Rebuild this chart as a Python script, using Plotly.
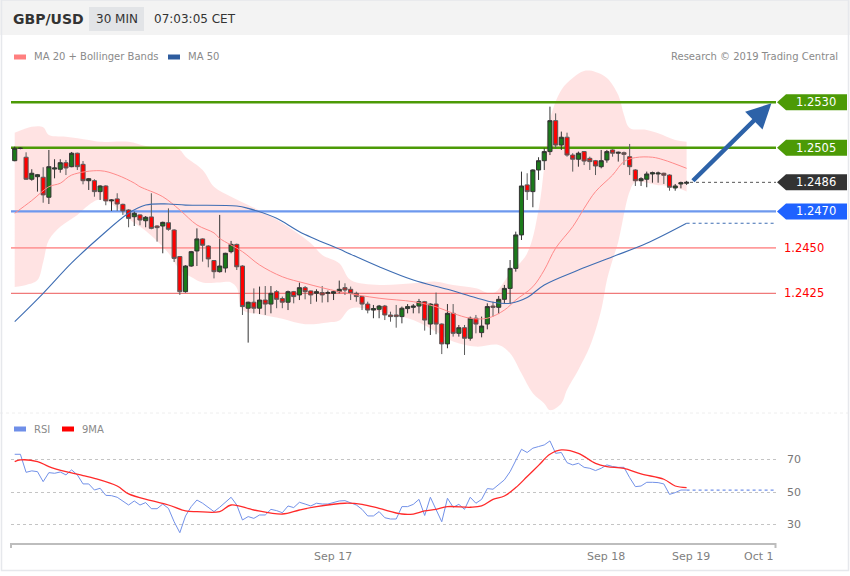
import plotly.graph_objects as go

# ---------------- data ----------------
slots = list(range(119))
open_ = [
1.24979, 1.25047, 1.24998, 1.24877, 1.24891, 1.24888, 1.24778, 1.24933, 1.24932, 1.24968,
1.24946, 1.25020, 1.24959, 1.24869, 1.24869, 1.24809, 1.24840, 1.24758, 1.24769, 1.24739,
1.24708, 1.24671, 1.24681, 1.24649, 1.24670, 1.24620, 1.24620, 1.24638, 1.24598, 1.24452,
1.24259, 1.24400, 1.24483, 1.24549, 1.24510, 1.24430, 1.24369, 1.24389, 1.24479, 1.24519,
1.24400, 1.24168, 1.24201, 1.24168, 1.24213, 1.24191, 1.24259, 1.24221, 1.24201, 1.24259,
1.24241, 1.24281, 1.24263, 1.24250, 1.24254, 1.24250, 1.24250, 1.24259, 1.24281, 1.24272,
1.24250, 1.24232, 1.24191, 1.24158, 1.24162, 1.24180, 1.24131, 1.24131, 1.24122, 1.24166,
1.24173, 1.24180, 1.24204, 1.24081, 1.24191, 1.24081, 1.23972, 1.24140, 1.24030, 1.24061,
1.24003, 1.24113, 1.24034, 1.24081, 1.24180, 1.24173, 1.24217, 1.24277, 1.24387, 1.24571,
1.24846, 1.24809, 1.24928, 1.24979, 1.25029, 1.25199, 1.25065, 1.25108, 1.25010, 1.24987,
1.25029, 1.24992, 1.24979, 1.24946, 1.24983, 1.25038, 1.25020, 1.25023, 1.25001, 1.24928,
1.24869, 1.24877, 1.24906, 1.24906, 1.24910, 1.24900, 1.24829, 1.24851, 1.24855]
high = [
1.25056, 1.25052, 1.25025, 1.24932, 1.24906, 1.24943, 1.25038, 1.24987, 1.24987, 1.24983,
1.25027, 1.25023, 1.24977, 1.24884, 1.24877, 1.24844, 1.24844, 1.24767, 1.24800, 1.24743,
1.24712, 1.24699, 1.24684, 1.24675, 1.24800, 1.24624, 1.24644, 1.24717, 1.24602, 1.24455,
1.24404, 1.24483, 1.24607, 1.24552, 1.24514, 1.24433, 1.24681, 1.24473, 1.24538, 1.24523,
1.24404, 1.24204, 1.24277, 1.24287, 1.24290, 1.24290, 1.24268, 1.24232, 1.24265, 1.24263,
1.24309, 1.24290, 1.24265, 1.24272, 1.24290, 1.24265, 1.24265, 1.24320, 1.24305, 1.24287,
1.24259, 1.24235, 1.24204, 1.24186, 1.24186, 1.24186, 1.24149, 1.24186, 1.24177, 1.24191,
1.24191, 1.24219, 1.24208, 1.24195, 1.24254, 1.24085, 1.24191, 1.24191, 1.24076, 1.24076,
1.24122, 1.24131, 1.24122, 1.24195, 1.24204, 1.24235, 1.24296, 1.24433, 1.24589, 1.24919,
1.24910, 1.24932, 1.24998, 1.25047, 1.25276, 1.25239, 1.25139, 1.25133, 1.25020, 1.25029,
1.25032, 1.25001, 1.24983, 1.25038, 1.25038, 1.25042, 1.25029, 1.25029, 1.25071, 1.24932,
1.24888, 1.24919, 1.24919, 1.24919, 1.24913, 1.24904, 1.24851, 1.24864, 1.24868]
low = [
1.24976, 1.25042, 1.24873, 1.24869, 1.24809, 1.24748, 1.24741, 1.24882, 1.24913, 1.24900,
1.24943, 1.24928, 1.24849, 1.24818, 1.24781, 1.24763, 1.24734, 1.24703, 1.24703, 1.24681,
1.24613, 1.24620, 1.24624, 1.24613, 1.24602, 1.24534, 1.24470, 1.24594, 1.24422, 1.24241,
1.24254, 1.24396, 1.24400, 1.24424, 1.24393, 1.24332, 1.24364, 1.24364, 1.24470, 1.24378,
1.24131, 1.23979, 1.24140, 1.24136, 1.24131, 1.24140, 1.24168, 1.24168, 1.24158, 1.24195,
1.24213, 1.24217, 1.24191, 1.24204, 1.24199, 1.24201, 1.24213, 1.24250, 1.24241, 1.24213,
1.24204, 1.24158, 1.24140, 1.24113, 1.24113, 1.24103, 1.24094, 1.24061, 1.24085, 1.24140,
1.24140, 1.24140, 1.24045, 1.24021, 1.24025, 1.23916, 1.23948, 1.24012, 1.24012, 1.23911,
1.23990, 1.24030, 1.24008, 1.24052, 1.24122, 1.24136, 1.24191, 1.24191, 1.24369, 1.24543,
1.24763, 1.24723, 1.24873, 1.24928, 1.25010, 1.25047, 1.25038, 1.25001, 1.24919, 1.24946,
1.24955, 1.24928, 1.24900, 1.24937, 1.24968, 1.25001, 1.24974, 1.24955, 1.24900, 1.24840,
1.24840, 1.24833, 1.24858, 1.24858, 1.24851, 1.24814, 1.24814, 1.24827, 1.24846]
close = [
1.25047, 1.25047, 1.24877, 1.24910, 1.24902, 1.24791, 1.24946, 1.24939, 1.24968, 1.24939,
1.25020, 1.24946, 1.24869, 1.24880, 1.24809, 1.24840, 1.24758, 1.24763, 1.24741, 1.24703,
1.24662, 1.24690, 1.24653, 1.24668, 1.24607, 1.24611, 1.24640, 1.24602, 1.24442, 1.24259,
1.24400, 1.24479, 1.24549, 1.24514, 1.24439, 1.24369, 1.24400, 1.24470, 1.24519, 1.24396,
1.24177, 1.24201, 1.24168, 1.24213, 1.24191, 1.24250, 1.24217, 1.24201, 1.24259, 1.24232,
1.24281, 1.24259, 1.24241, 1.24259, 1.24241, 1.24254, 1.24259, 1.24272, 1.24268, 1.24250,
1.24232, 1.24191, 1.24158, 1.24166, 1.24180, 1.24131, 1.24122, 1.24122, 1.24168, 1.24177,
1.24180, 1.24204, 1.24103, 1.24191, 1.24081, 1.23972, 1.24140, 1.24030, 1.24061, 1.24003,
1.24113, 1.24081, 1.24070, 1.24177, 1.24173, 1.24217, 1.24277, 1.24387, 1.24571, 1.24840,
1.24809, 1.24928, 1.24979, 1.25029, 1.25199, 1.25065, 1.25108, 1.25010, 1.24987, 1.25020,
1.24977, 1.24974, 1.24950, 1.24979, 1.25029, 1.25020, 1.25025, 1.25014, 1.24946, 1.24869,
1.24880, 1.24906, 1.24913, 1.24911, 1.24899, 1.24833, 1.24840, 1.24858, 1.24860]

ma20_x = [0, 3, 6, 8, 10, 15, 18, 21, 22, 26, 29, 32, 35, 36, 40, 43, 47, 51, 57, 64, 70, 74, 77, 80,
          83, 86, 88, 91, 93, 95, 98, 100, 102, 105, 107, 109, 112, 114, 118]
ma20_y = [1.24690, 1.24760, 1.24836, 1.24855, 1.24900, 1.24924, 1.24900, 1.24856, 1.24836, 1.24781,
          1.24708, 1.24626, 1.24582, 1.24552, 1.24479, 1.24406, 1.24341, 1.24305, 1.24259, 1.24223,
          1.24204, 1.24176, 1.24140, 1.24113, 1.24113, 1.24158, 1.24213, 1.24286, 1.24378, 1.24498,
          1.24616, 1.24717, 1.24809, 1.24900, 1.24974, 1.24996, 1.24998, 1.24983, 1.24937]

bb_up_x = [0, 3, 5, 6, 9, 13, 15, 20, 23, 27, 29, 30, 33, 35, 38, 41, 44, 48, 52, 54, 57, 59, 64, 70,
           74, 77, 81, 84, 87, 90, 92, 93, 94, 96, 98, 100, 102, 104, 106, 107, 108, 111, 113, 116, 118]
bb_up_y = [1.25133, 1.25166, 1.25163, 1.25120, 1.25111, 1.25093, 1.25083, 1.25083, 1.25060, 1.25042,
           1.25038, 1.25001, 1.24928, 1.24836, 1.24781, 1.24736, 1.24690, 1.24616, 1.24525, 1.24461,
           1.24415, 1.24323, 1.24296, 1.24305, 1.24314, 1.24296, 1.24278, 1.24250, 1.24360, 1.24470,
           1.24708, 1.24946, 1.25203, 1.25368, 1.25434, 1.25472, 1.25467, 1.25434, 1.25340, 1.25230,
           1.25159, 1.25148, 1.25130, 1.25093, 1.25083]
bb_lo_x = [0, 2, 4, 5, 6, 8, 11, 13, 15, 18, 20, 23, 27, 29, 31, 33, 36, 38, 39, 40, 43, 47, 51, 55,
           57, 59, 64, 70, 74, 77, 81, 85, 87, 89, 91, 93, 94, 96, 97, 99, 101, 103, 104, 105, 106,
           108, 109, 113, 116, 118]
bb_lo_y = [1.24285, 1.24296, 1.24323, 1.24422, 1.24543, 1.24616, 1.24681, 1.24735, 1.24765, 1.24720,
           1.24660, 1.24594, 1.24472, 1.24380, 1.24340, 1.24310, 1.24310, 1.24310, 1.24280, 1.24160,
           1.24135, 1.24110, 1.24080, 1.24090, 1.24100, 1.24167, 1.24150, 1.24103, 1.24039, 1.23985,
           1.23957, 1.23966, 1.23920, 1.23810, 1.23700, 1.23645, 1.23608, 1.23645, 1.23720, 1.23830,
           1.23957, 1.24158, 1.24323, 1.24433, 1.24534, 1.24810, 1.24861, 1.24844, 1.24835, 1.24809]

ma50_x = [0, 5, 10, 15, 20, 23, 27, 30, 39, 41, 46, 50, 58, 64, 70, 76, 81, 84, 87, 90, 93, 99, 105,
          111, 118]
ma50_y = [1.24094, 1.24250, 1.24417, 1.24561, 1.24690, 1.24735, 1.24741, 1.24735, 1.24730, 1.24717,
          1.24662, 1.24589, 1.24479, 1.24396, 1.24323, 1.24272, 1.24226, 1.24201, 1.24195, 1.24227,
          1.24296, 1.24378, 1.24451, 1.24525, 1.24635]

rsi = [73.5, 73.5, 62.3, 63.2, 62.7, 56.5, 62.1, 61.7, 62.5, 60.7,
       63.8, 60.7, 55.1, 55.1, 51.3, 52.4, 48.0, 47.8, 46.8, 44.5,
       42.0, 44.5, 42.0, 43.5, 39.7, 39.7, 42.6, 39.9, 31.6, 24.8,
       35.2, 41.0, 45.1, 43.1, 40.4, 37.9, 40.6, 43.7, 46.8, 42.0,
       32.7, 34.8, 33.7, 35.8, 35.8, 39.3, 38.5, 37.2, 41.4, 40.4,
       43.7, 42.6, 41.4, 43.1, 42.6, 42.6, 43.7, 44.5, 44.7, 43.5,
       42.0, 39.3, 35.2, 35.2, 37.9, 34.1, 33.3, 33.3, 41.0, 41.0,
       42.4, 45.5, 35.5, 46.8, 38.9, 31.6, 46.2, 40.6, 42.4, 39.3,
       46.8, 43.1, 45.5, 52.2, 51.8, 54.5, 57.6, 62.7, 69.6, 76.6,
       74.6, 77.3, 78.3, 79.3, 81.8, 74.1, 74.6, 68.3, 66.9, 67.9,
       65.4, 64.8, 63.4, 64.8, 66.9, 65.9, 65.4, 65.4, 59.0, 53.4,
       53.8, 56.1, 56.1, 55.9, 55.1, 48.6, 49.7, 51.3, 51.3]
rsi_ma_x = [0, 1, 4, 6, 9, 12, 14, 18, 20, 24, 27, 30, 32, 36, 38, 42, 47, 50, 53, 58, 61, 64, 68, 70,
            72, 74, 76, 80, 82, 84, 86, 88, 90, 92, 94, 96, 99, 102, 104, 107, 110, 114, 116, 118]
rsi_ma_y = [69.0, 70.0, 69.0, 65.9, 62.7, 60.3, 58.6, 53.8, 48.9, 44.7, 42.0, 38.3, 37.9, 37.9, 42.0,
            38.9, 36.4, 38.9, 41.0, 43.1, 42.4, 39.9, 36.4, 36.4, 38.3, 39.3, 41.0, 40.6, 41.4, 45.5,
            47.6, 52.8, 59.7, 66.6, 73.5, 76.2, 74.1, 67.9, 65.9, 64.8, 61.3, 58.0, 53.8, 52.8]

resistance = [1.2530, 1.2505]
last_price = 1.2486
pivot = 1.2470
support = [1.2450, 1.2425]
date_tick_pos = [55.9, 103.8, 118.8, 130.7]
date_tick_text = ["Sep 17", "Sep 18", "Sep 19", "Oct 1"]
rsi_ticks = [30, 50, 70]

# ---------------- geometry helpers ----------------
W, H = 850, 576
ML, MR, MT, MB = 11, 74, 0, 33
PW, PH = W - ML - MR, H - MT - MB
XR = [-0.65, 133.7]
YR = [1.235921, 1.255215]


def pxx(x):
    return (x - ML) / PW


def pxy(y):
    return (H - MB - y) / PH


FONT = "DejaVu Sans"
fig = go.Figure()
NOHOV = dict(showlegend=False, hoverinfo="skip")

# Bollinger band fill (base layer)
fig.add_trace(go.Scatter(x=bb_lo_x, y=bb_lo_y, mode="lines", line=dict(width=0, shape="spline"), **NOHOV))
fig.add_trace(go.Scatter(x=bb_up_x, y=bb_up_y, mode="lines", line=dict(width=0, shape="spline"),
                         fill="tonexty", fillcolor="rgba(255,200,200,0.5)", **NOHOV))

# level lines (base layer, above the band)
for lv in resistance:
    fig.add_trace(go.Scatter(x=[XR[0] - 1, XR[1] + 1], y=[lv, lv], mode="lines",
                             line=dict(color="#4c9a06", width=2.5), **NOHOV))
fig.add_trace(go.Scatter(x=[XR[0] - 1, XR[1] + 1], y=[pivot, pivot], mode="lines",
                         line=dict(color="#6d98ee", width=2.2), **NOHOV))
fig.add_trace(go.Scatter(x=[XR[0] - 1, XR[1] + 1], y=[support[0], support[0]], mode="lines",
                         line=dict(color="#ff9c9c", width=1.8), **NOHOV))
fig.add_trace(go.Scatter(x=[XR[0] - 1, XR[1] + 1], y=[support[1], support[1]], mode="lines",
                         line=dict(color="#f07a7a", width=1.2), **NOHOV))
fig.add_trace(go.Scatter(x=[slots[-1] + 0.6, XR[1]], y=[last_price, last_price], mode="lines",
                         line=dict(color="#555555", width=1, dash="dot"), **NOHOV))

# candles (overlay axes so they sit above the band fill)
fig.add_trace(go.Candlestick(x=slots, open=open_, high=high, low=low, close=close,
                             increasing=dict(fillcolor="#1b7a1b", line=dict(color="#333333", width=1)),
                             decreasing=dict(fillcolor="#ff0000", line=dict(color="#5a5a5a", width=1)),
                             whiskerwidth=0, xaxis="x3", yaxis="y3", **NOHOV))

# moving averages (overlay)
fig.add_trace(go.Scatter(x=ma20_x, y=ma20_y, mode="lines", line=dict(color="#ff8a8a", width=1, shape="spline"),
                         xaxis="x3", yaxis="y3", **NOHOV))
fig.add_trace(go.Scatter(x=ma50_x, y=ma50_y, mode="lines", line=dict(color="#3e6db3", width=1.1, shape="spline"),
                         xaxis="x3", yaxis="y3", **NOHOV))
fig.add_trace(go.Scatter(x=[ma50_x[-1], XR[1]], y=[ma50_y[-1], ma50_y[-1]], mode="lines",
                         line=dict(color="#3e6db3", width=1.1, dash="dot"), xaxis="x3", yaxis="y3", **NOHOV))

# RSI panel
fig.add_trace(go.Scatter(x=slots, y=rsi, mode="lines", line=dict(color="#7291e8", width=1),
                         xaxis="x2", yaxis="y2", **NOHOV))
fig.add_trace(go.Scatter(x=[slots[-1], XR[1]], y=[rsi[-1], rsi[-1]], mode="lines",
                         line=dict(color="#7291e8", width=1.2, dash="dot"), xaxis="x2", yaxis="y2", **NOHOV))
fig.add_trace(go.Scatter(x=rsi_ma_x, y=rsi_ma_y, mode="lines", line=dict(color="#ff2a2a", width=1.3, shape="spline"),
                         xaxis="x2", yaxis="y2", **NOHOV))

shapes = []
annots = []

# header
shapes.append(dict(type="rect", xref="paper", yref="paper", x0=pxx(0), x1=pxx(W), y0=pxy(35), y1=pxy(0),
                   fillcolor="#f3f3f3", line=dict(width=0), layer="below"))
shapes.append(dict(type="rect", xref="paper", yref="paper", x0=pxx(89), x1=pxx(144), y0=pxy(31), y1=pxy(7),
                   fillcolor="#e2e4e7", line=dict(width=0), layer="below"))
annots += [
    dict(text="<b>GBP/USD</b>", x=pxx(11), y=pxy(19), xanchor="left", yanchor="middle",
         font=dict(family=FONT, size=14, color="#333333")),
    dict(text="30 MIN", x=pxx(116.5), y=pxy(19), xanchor="center", yanchor="middle",
         font=dict(family=FONT, size=12, color="#333333")),
    dict(text="07:03:05 CET", x=pxx(152), y=pxy(19), xanchor="left", yanchor="middle",
         font=dict(family=FONT, size=12, color="#333333")),
]


def legend_item(x, y, color, text):
    shapes.append(dict(type="rect", xref="paper", yref="paper", x0=pxx(x), x1=pxx(x + 12),
                       y0=pxy(y + 2.5), y1=pxy(y - 2.5), fillcolor=color, line=dict(width=0)))
    annots.append(dict(text=text, x=pxx(x + 18), y=pxy(y), xanchor="left", yanchor="middle",
                       font=dict(family=FONT, size=10, color="#8a8a8a")))


legend_item(14, 57, "#ff7f7f", "MA 20 + Bollinger Bands")
legend_item(168, 57, "#2e5c9e", "MA 50")
legend_item(14, 429, "#6f8fe8", "RSI")
legend_item(62, 429, "#ff0000", "9MA")
annots.append(dict(text="Research © 2019 Trading Central", x=pxx(840), y=pxy(57), xanchor="right",
                   yanchor="middle", font=dict(family=FONT, size=10, color="#8a8a8a")))


def price_px(price):
    return 413 - (price - YR[0]) / (YR[1] - YR[0]) * (413 - 62)


def label_box(price, color, text):
    ypx = price_px(price)
    y0, y1 = ypx - 8, ypx + 8
    path = "M {a},{c} L {b},{d} L {e},{d} L {e},{f} L {b},{f} Z".format(
        a=pxx(777), b=pxx(786), e=pxx(847), c=pxy(ypx), d=pxy(y0), f=pxy(y1))
    shapes.append(dict(type="path", xref="paper", yref="paper", path=path, fillcolor=color,
                       line=dict(width=0)))
    annots.append(dict(text=text, x=pxx(816), y=pxy(ypx), xanchor="center", yanchor="middle",
                       font=dict(family=FONT, size=11.5, color="white")))


label_box(resistance[0], "#4c9a06", "1.2530")
label_box(resistance[1], "#4c9a06", "1.2505")
label_box(last_price, "#333333", "1.2486")
label_box(pivot, "#1f62ff", "1.2470")
for lv, txt in zip(support, ["1.2450", "1.2425"]):
    annots.append(dict(text=txt, x=pxx(804), y=lv, yref="y", xanchor="center", yanchor="middle",
                       font=dict(family=FONT, size=11.5, color="#ff0000")))

# arrow
annots.append(dict(x=132.9, y=1.25295, xref="x3", yref="y3", ax=-80, ay=79, showarrow=True,
                   arrowhead=2, arrowsize=1.1, arrowwidth=4.5, arrowcolor="#2d62a8", text=""))

# RSI labels
for v in rsi_ticks:
    annots.append(dict(text=str(v), x=pxx(785), y=v, yref="y2", xanchor="left", yanchor="middle",
                       font=dict(family=FONT, size=11, color="#777777")))
for p, t in zip(date_tick_pos, date_tick_text):
    annots.append(dict(text=t, x=p, xref="x2", y=pxy(556), yref="paper", xanchor="center",
                       yanchor="middle", font=dict(family=FONT, size=11, color="#808080")))

# axis end ticks, separators, border
for xp in (11, 775.5):
    shapes.append(dict(type="line", xref="paper", yref="paper", x0=pxx(xp), x1=pxx(xp),
                       y0=pxy(543), y1=pxy(548), line=dict(color="#bdbdbd", width=2)))
shapes.append(dict(type="line", xref="paper", yref="paper", x0=pxx(0), x1=pxx(W),
                   y0=pxy(413), y1=pxy(413), line=dict(color="#eeeeee", width=1, dash="dot")))
shapes.append(dict(type="rect", xref="paper", yref="paper", x0=pxx(1.5), x1=pxx(848.5),
                   y0=pxy(570.5), y1=pxy(0), line=dict(color="#e6e8ec", width=1.5)))

for a in annots:
    a.setdefault("xref", "paper")
    a.setdefault("yref", "paper")
    a.setdefault("showarrow", False)

fig.update_layout(
    width=W, height=H, margin=dict(l=ML, r=MR, t=MT, b=MB),
    paper_bgcolor="white", plot_bgcolor="rgba(0,0,0,0)",
    showlegend=False, hovermode=False, boxgap=0.2, boxgroupgap=0.1,
    xaxis=dict(domain=[0, 1], range=XR, visible=False, rangeslider=dict(visible=False), anchor="y"),
    yaxis=dict(domain=[pxy(413), pxy(62)], range=YR, visible=False, anchor="x"),
    xaxis3=dict(range=XR, visible=False, overlaying="x", anchor="y3", rangeslider=dict(visible=False)),
    yaxis3=dict(range=YR, visible=False, overlaying="y", anchor="x3"),
    xaxis2=dict(domain=[0, 1], range=XR, anchor="y2", showline=True, linecolor="#bdbdbd", linewidth=2,
                showticklabels=False, ticks="", showgrid=False, zeroline=False),
    yaxis2=dict(domain=[0, pxy(415)], range=[18.4, 97.9], anchor="x2", tickvals=rsi_ticks,
                showticklabels=False, ticks="", showgrid=True, gridcolor="#c4c4c4", griddash="dot",
                gridwidth=1, zeroline=False, showline=False),
    shapes=shapes, annotations=annots,
)

fig.write_html("out.html", config={"displayModeBar": False},
               post_script="document.body.style.margin='0';document.body.style.overflow='hidden';")
